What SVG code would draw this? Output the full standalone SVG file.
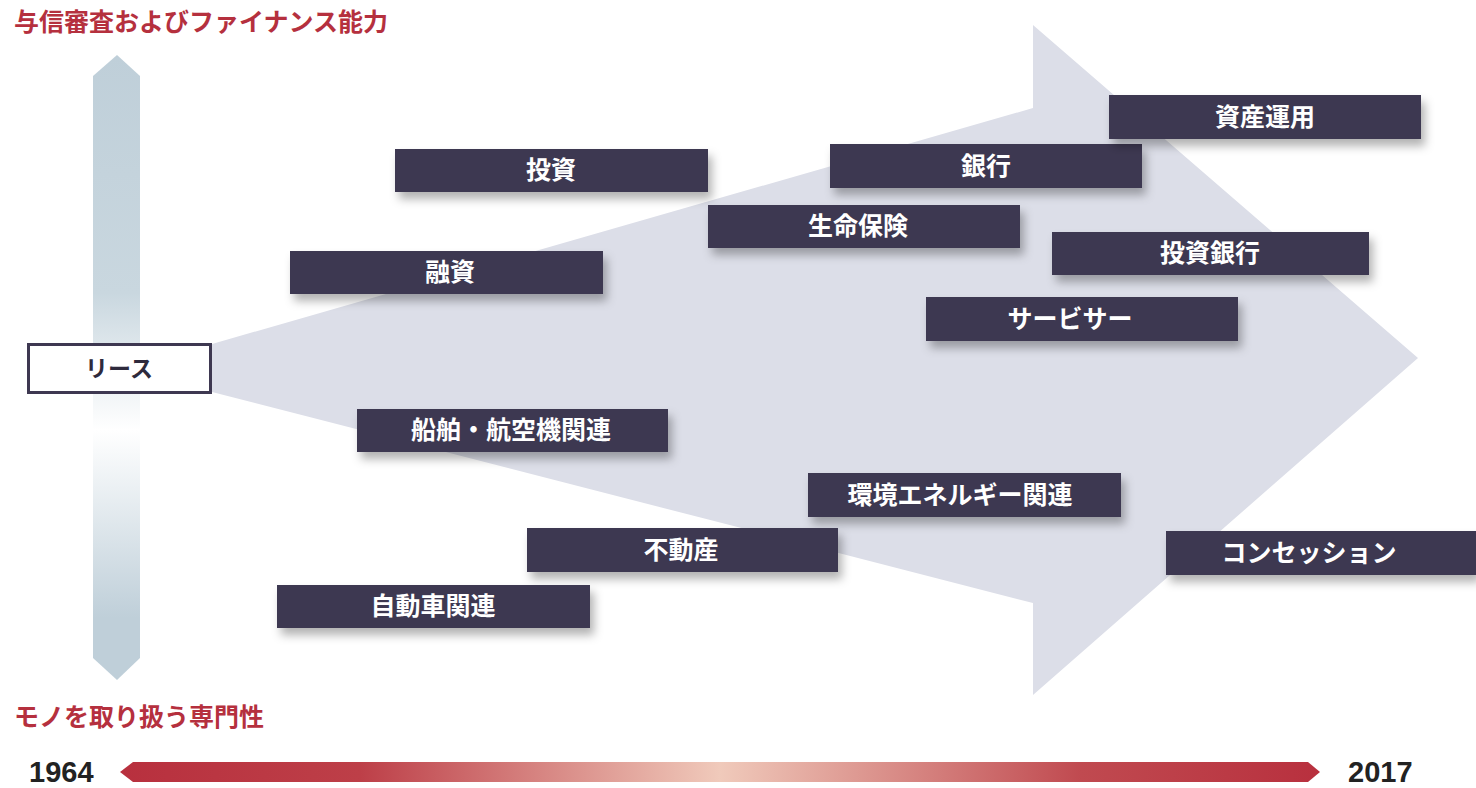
<svg xmlns="http://www.w3.org/2000/svg" width="1476" height="788" viewBox="0 0 1476 788">
<defs>
<linearGradient id="vbar" x1="0" y1="55" x2="0" y2="680" gradientUnits="userSpaceOnUse">
<stop offset="0" stop-color="#bfcfd9"/>
<stop offset="0.38" stop-color="#c9d7df"/>
<stop offset="0.6" stop-color="#ffffff"/>
<stop offset="0.9" stop-color="#bfcfd9"/>
<stop offset="1" stop-color="#bfcfd9"/>
</linearGradient>
<linearGradient id="tline" x1="120" y1="0" x2="1320" y2="0" gradientUnits="userSpaceOnUse">
<stop offset="0" stop-color="#b8303e"/>
<stop offset="0.2" stop-color="#bd3f48"/>
<stop offset="0.5" stop-color="#f0cabb"/>
<stop offset="0.8" stop-color="#c04a50"/>
<stop offset="1" stop-color="#b8303e"/>
</linearGradient>
<filter id="sh" x="-10%" y="-30%" width="125%" height="190%">
<feDropShadow dx="4" dy="7" stdDeviation="5" flood-color="#000" flood-opacity="0.3"/>
</filter>
</defs>
<style>
.title{font-family:"Noto Sans CJK JP","Noto Sans",sans-serif;font-weight:bold;font-size:25px;fill:#b5303e}
.box{fill:#3e3851;filter:url(#sh)}
.lbl{font-family:"Noto Sans CJK JP","Noto Sans",sans-serif;font-weight:bold;font-size:25px;fill:#ffffff;text-anchor:middle}
.year{font-family:"Liberation Sans",Arial,sans-serif;font-weight:bold;font-size:29px;fill:#222222}
</style>

<!-- background big arrow -->
<polygon id="bigArrow" points="212,344 1033,108 1033,25 1418,358 1033,695 1033,603 212,392" fill="#dcdee8"/>

<!-- vertical axis -->
<polygon id="vaxis" points="117,55 140,76 140,658 117,680 93,658 93,76" fill="url(#vbar)"/>

<text class="title" x="14" y="31">与信審査およびファイナンス能力</text>
<text class="title" x="14" y="726">モノを取り扱う専門性</text>

<!-- timeline -->
<polygon id="timeline" points="120,772 133,762 1308,762 1320,772 1308,782 133,782" fill="url(#tline)"/>
<text class="year" x="29" y="782">1964</text>
<text class="year" x="1348" y="782">2017</text>

<g id="lease">
<rect x="28.5" y="344.5" width="182" height="48" fill="#ffffff" stroke="#3e3851" stroke-width="3"/>
<text x="119" y="377" font-family="'Noto Sans CJK JP',sans-serif" font-weight="bold" font-size="23" fill="#2e2a3c" text-anchor="middle">リース</text>
</g>

<g id="n-toushi"><rect class="box" x="395" y="149" width="313" height="43"/><text class="lbl" x="551" y="179">投資</text></g>
<g id="n-ginkou"><rect class="box" x="830" y="144" width="312" height="44"/><text class="lbl" x="986" y="175">銀行</text></g>
<g id="n-shisanunyou"><rect class="box" x="1109" y="95" width="312" height="44"/><text class="lbl" x="1265" y="126">資産運用</text></g>
<g id="n-seimeihoken"><rect class="box" x="708" y="205" width="312" height="43"/><text class="lbl" x="858" y="235">生命保険</text></g>
<g id="n-toushiginkou"><rect class="box" x="1052" y="232" width="317" height="43"/><text class="lbl" x="1210" y="262">投資銀行</text></g>
<g id="n-yushi"><rect class="box" x="290" y="251" width="313" height="43"/><text class="lbl" x="450" y="281">融資</text></g>
<g id="n-servicer"><rect class="box" x="926" y="297" width="312" height="44"/><text class="lbl" x="1070" y="328">サービサー</text></g>
<g id="n-senpaku"><rect class="box" x="357" y="409" width="311" height="43"/><text class="lbl" x="511" y="439">船舶・航空機関連</text></g>
<g id="n-kankyou"><rect class="box" x="808" y="473" width="313" height="44"/><text class="lbl" x="960" y="504">環境エネルギー関連</text></g>
<g id="n-fudousan"><rect class="box" x="527" y="528" width="311" height="44"/><text class="lbl" x="681" y="559">不動産</text></g>
<g id="n-concession"><rect class="box" x="1166" y="531" width="310" height="44"/><text class="lbl" x="1309" y="562">コンセッション</text></g>
<g id="n-jidousha"><rect class="box" x="277" y="585" width="313" height="43"/><text class="lbl" x="433" y="615">自動車関連</text></g>

<g id="connectors"></g>
</svg>
